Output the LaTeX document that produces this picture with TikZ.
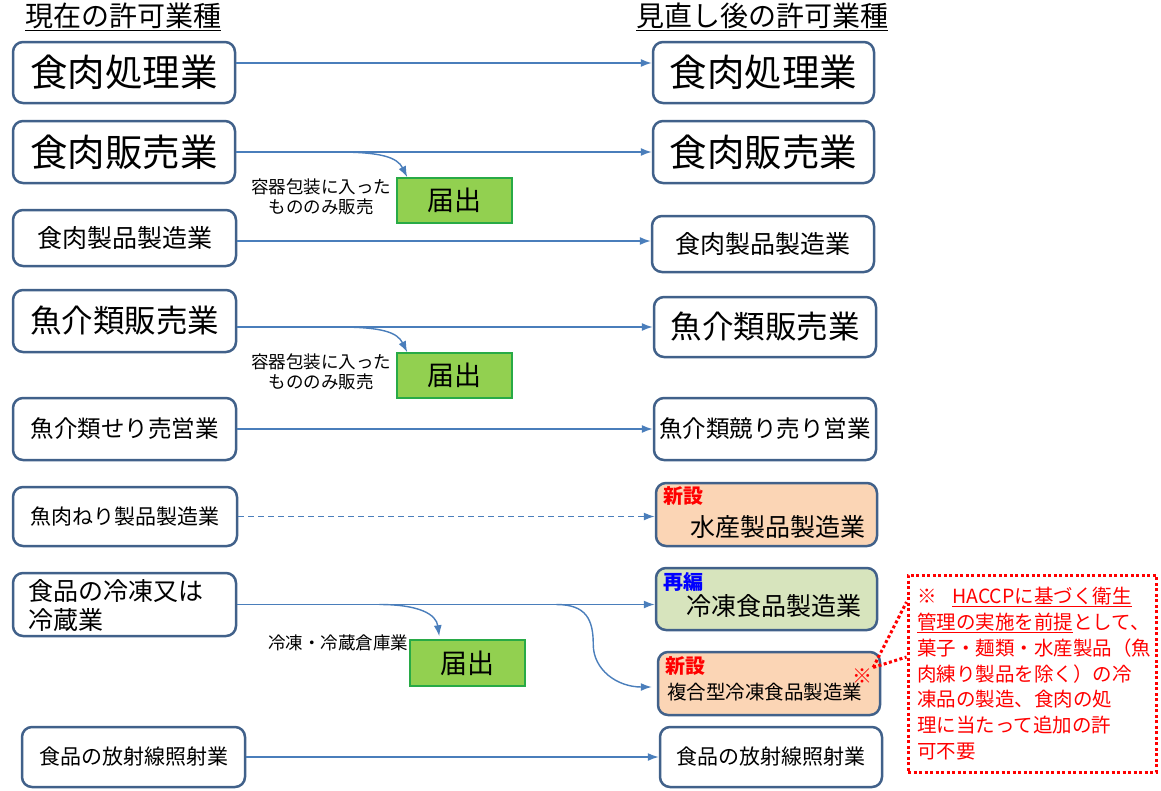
\documentclass[tikz,border=0pt]{standalone}
\usepackage{fontspec}
\setmainfont{Noto Sans CJK JP}
\usetikzlibrary{positioning,calc,arrows.meta}
\definecolor{boxline}{RGB}{65,97,138}
\definecolor{arrowblue}{RGB}{74,126,187}
\definecolor{peach}{RGB}{251,213,181}
\definecolor{palegreen}{RGB}{215,228,189}
\definecolor{todokefill}{RGB}{146,208,80}
\definecolor{todokeline}{RGB}{40,170,70}
\definecolor{notered}{RGB}{255,0,0}

\begin{document}
\begin{tikzpicture}[x=1pt,y=-1pt,
  box/.style={draw=boxline,line width=2.5pt,rounded corners=10pt,fill=white,inner sep=0pt},
  todoke/.style={draw=todokeline,line width=1.5pt,fill=todokefill,minimum width=115pt,minimum height=45pt,font=\fontsize{27}{30}\selectfont},
  tag/.style={anchor=west,inner sep=0pt,font=\fontsize{20}{22}\selectfont\bfseries},
  arr/.style={draw=arrowblue,line width=1.4pt,-{Latex[length=11pt,width=8pt]}},
  dotline/.style={draw=notered,line width=3pt,dash pattern=on 3pt off 2.5pt},
  f36/.style={font=\fontsize{37.5}{41}\selectfont},
  f31/.style={font=\fontsize{31.5}{34}\selectfont},
  f27/.style={font=\fontsize{28}{31}\selectfont},
  f25/.style={font=\fontsize{25}{29}\selectfont},
  f23/.style={font=\fontsize{23.5}{26}\selectfont},
  f21/.style={font=\fontsize{21}{24}\selectfont},
  f19/.style={font=\fontsize{19.5}{22}\selectfont},
  f17/.style={font=\fontsize{17.5}{20}\selectfont}]
\useasboundingbox (0,0) rectangle (1161,790);

% headings
\node[f27] (hl) at (123,17) {\underline{現在の許可業種}};
\node[f27] (hr) at (762,17) {\underline{見直し後の許可業種}};

% current licences
\node[box,f36,minimum width=222pt,minimum height=61pt] (l1) at (124,72.5) {食肉処理業};
\node[box,f36,minimum width=222pt,minimum height=62pt] (l2) at (124,152) {食肉販売業};
\node[box,f25,minimum width=223pt,minimum height=56pt] (l3) at (124.5,238) {食肉製品製造業};
\node[box,f31,minimum width=223pt,minimum height=62pt] (l4) at (124.5,321) {魚介類販売業};
\node[box,f23,minimum width=223pt,minimum height=62pt] (l5) at (124.5,429) {魚介類せり売営業};
\node[box,f21,minimum width=224pt,minimum height=59pt] (l6) at (125,516.5) {魚肉ねり製品製造業};
\node[box,minimum width=223pt,minimum height=63pt] (l7) at (124.5,604.5) {};
\node[f25,anchor=west,align=left,inner sep=0pt] (l7t) at ([shift={(17,1)}]l7.west) {食品の冷凍又は\\冷蔵業};
\node[box,f21,minimum width=223pt,minimum height=60pt] (l8) at (133.5,757) {食品の放射線照射業};

% revised licences
\node[box,f36,minimum width=221pt,minimum height=61pt] (r1) at (763.5,72.5) {食肉処理業};
\node[box,f36,minimum width=221pt,minimum height=62pt] (r2) at (763.5,152) {食肉販売業};
\node[box,f25,minimum width=222pt,minimum height=56pt] (r3) at (763,244) {食肉製品製造業};
\node[box,f31,minimum width=222pt,minimum height=60pt] (r4) at (765,327) {魚介類販売業};
\node[box,f23,minimum width=222pt,minimum height=62pt] (r5) at (765,429) {魚介類競り売り営業};
\node[box,fill=peach,minimum width=221pt,minimum height=63pt] (r6) at (766.5,514.5) {};
\node[tag,text=notered] (r6a) at ([shift={(9,14)}]r6.north west) {新設};
\node[f25] (r6t) at ([shift={(11.5,12.5)}]r6.center) {水産製品製造業};
\node[box,fill=palegreen,minimum width=221pt,minimum height=62pt] (r7) at (766.5,599) {};
\node[tag,text=blue] (r7a) at ([shift={(9,15)}]r7.north west) {再編};
\node[f25] (r7t) at ([shift={(7.5,7)}]r7.center) {冷凍食品製造業};
\node[box,fill=peach,minimum width=222pt,minimum height=63pt] (r8) at (769,683.5) {};
\node[tag,text=notered] (r8a) at ([shift={(9,15)}]r8.north west) {新設};
\node[f19] (r8t) at ([shift={(-4.5,8.5)}]r8.center) {複合型冷凍食品製造業};
\node[text=notered,font=\fontsize{20}{22}\selectfont,inner sep=1pt] (mark) at (862,676) {※};
\node[box,f21,minimum width=222pt,minimum height=60pt] (r9) at (771,757) {食品の放射線照射業};

% notifications
\node[todoke] (t1) at (454.5,200.5) {届出};
\node[todoke] (t2) at (454.5,375.5) {届出};
\node[todoke,minimum height=46pt] (t3) at (467.5,663) {届出};
\node[f17,align=center] (n1) at (321,197) {容器包装に入った\\もののみ販売};
\node[f17,align=center] (n2) at (321,372) {容器包装に入った\\もののみ販売};
\node[f17] (n3) at (338,643) {冷凍・冷蔵倉庫業};

% arrows
\draw[arr] ([shift={(0,-9.5)}]l1.east) -- ([shift={(0,-9.5)}]r1.west);
\draw[arr] (l2.east) -- (r2.west);
\coordinate (c2) at ($(l2.east)+(100,0)$);
\draw[arr] (c2) .. controls +(45,0) and +(-10,-20) .. ([shift={(11,0)}]t1.north west);
\draw[arr] ([shift={(0,3)}]l3.east) -- ([shift={(0,-3)}]r3.west);
\draw[arr] ([shift={(0,6)}]l4.east) -- (r4.west);
\coordinate (c4) at ($(l4.east)+(100,6)$);
\draw[arr] (c4) .. controls +(45,0) and +(-10,-20) .. ([shift={(11,0)}]t2.north west);
\draw[arr] (l5.east) -- (r5.west);
\draw[arr,dash pattern=on 6pt off 4pt] (l6.east) -- (l6.east -| r6.west);
\draw[arr] (l7.east) -- (l7.east -| r7.west);
\coordinate (c7a) at ($(l7.east)+(142,0)$);
\draw[arr] (c7a) .. controls +(40,0) and +(-3,-22) .. ([shift={(30,-3)}]t3.north west);
\coordinate (c7b) at ($(l7.east)+(319,0)$);
\coordinate (c7m) at ($(l7.east)+(356,40)$);
\draw[arr] (c7b) .. controls +(30,0) and +(0,-25) .. (c7m)
  .. controls +(0,25) and +(-35,0) .. ([shift={(-5,3.5)}]r8.west);
\draw[arr] (l8.east) -- (r9.west);

% note
\node[dotline,fill=white,minimum width=248pt,minimum height=197pt] (note) at (1032,673.5) {};
\draw[dotline] (mark.north east) -- ([shift={(0,-71.5)}]note.west);
\draw[dotline] (mark.north east) -- ([shift={(0,-16.5)}]note.west);
\node[anchor=north west,align=left,text=notered,inner sep=0pt,font=\fontsize{19.5}{25.8}\selectfont] (notetext) at (917,587)
  {※\hspace{0.8em}\underline{HACCPに基づく衛生}\\\underline{管理の実施を前提}として、\\菓子・麺類・水産製品（魚\\肉練り製品を除く）の冷\\凍品の製造、食肉の処\\理に当たって追加の許\\可不要};
\end{tikzpicture}
\end{document}
